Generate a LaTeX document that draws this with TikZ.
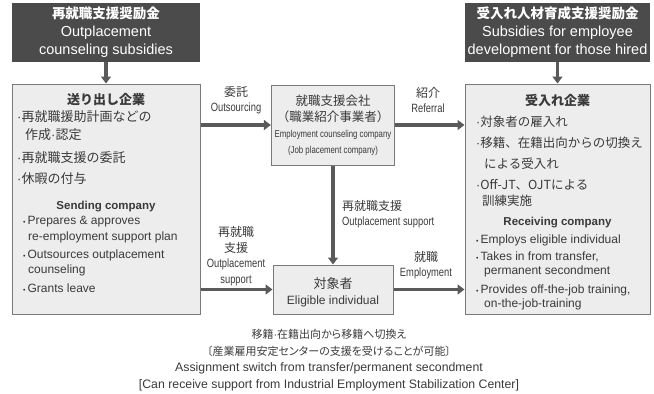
\documentclass[tikz,border=0pt]{standalone}
\usepackage{fontspec}
\setmainfont{Liberation Sans}
\newfontfamily\jp{Noto Sans CJK JP}
\newfontfamily\jpp[RawFeature=+palt]{Noto Sans CJK JP}
\newfontfamily\narrow[FakeStretch=0.78]{Liberation Sans}
\usetikzlibrary{arrows.meta,positioning}

\definecolor{darkbox}{HTML}{4B4B4B}
\definecolor{boxfill}{HTML}{EDEDED}
\definecolor{boxline}{HTML}{7A7A7A}
\definecolor{arrowgray}{HTML}{5A5A5A}
\definecolor{ink}{HTML}{3A3A3A}

\newcommand\mdot{{\normalfont\textperiodcentered}}
\newcommand\bul{{\fontsize{7}{7}\selectfont\textbullet}\,}

\tikzset{
  subsidy/.style = {fill = darkbox, text = white, align = center,
    minimum width = 188pt, minimum height = 59pt, inner sep = 0pt,
    font = \fontsize{14.5}{18}\selectfont},
  panel/.style = {draw = boxline, fill = boxfill, line width = 1pt},
  flow/.style = {draw = arrowgray, line width = 3.5pt,
    -{Triangle[length = 7pt, width = 10pt]}},
  jtxt/.style = {text = ink, inner sep = 0pt, anchor = west,
    font = \jp\fontsize{13}{15}\selectfont},
  etxt/.style = {text = ink, inner sep = 0pt, anchor = west,
    font = \fontsize{12}{14}\selectfont},
  head/.style = {text = ink, inner sep = 0pt},
  lbl/.style = {text = ink, inner sep = 0pt, align = center,
    font = \fontsize{12}{15.5}\selectfont},
}

\begin{document}
\begin{tikzpicture}[x = 1pt, y = -1pt]
  \useasboundingbox (0, 0) rectangle (654, 394);

  % ------------------------------------------------------------------------
  % Subsidies
  \node[subsidy] at (106, 32.5) (subL)
    {{\jp\bfseries\fontsize{13.5}{18}\selectfont 再就職支援奨励金}\\Outplacement\\counseling subsidies};
  \node[subsidy, minimum width = 185pt] at (557.5, 32.5) (subR)
    {{\jp\bfseries\fontsize{13.5}{18}\selectfont 受入れ人材育成支援奨励金}\\Subsidies for employee\\development for those hired};

  % ------------------------------------------------------------------------
  % Boxes
  \node[panel, minimum width = 188pt, minimum height = 230pt] at (106, 199) (send) {};
  \node[panel, minimum width = 185pt, minimum height = 230pt] at (557.5, 199) (recv) {};
  \node[panel, minimum width = 119pt, minimum height = 80pt, align = center,
        text = ink, font = \fontsize{12.5}{16}\selectfont] at (333, 125) (agency)
    {{\jp 就職支援会社}\\{\jp （職業紹介事業者）}\\{\narrow\fontsize{10}{16}\selectfont Employment counseling company}\\{\narrow\fontsize{10}{16}\selectfont (Job placement company)}};
  \node[panel, minimum width = 120pt, minimum height = 49pt] at (333, 289.5) (person) {};
  \node[head, align = center, font = \fontsize{12}{15.5}\selectfont] at (333, 292.5) (personT)
    {{\jp\fontsize{13}{15.5}\selectfont 対象者}\\Eligible individual};

  % ------------------------------------------------------------------------
  % Sending company
  \node[head, font = \jp\bfseries\fontsize{13}{15}\selectfont] at (106, 100) (sendJ) {送り出し企業};
  \node[jtxt] at (17, 117) (sendJa) {\mdot 再就職援助計画などの};
  \node[jtxt] at (25, 135) (sendJb) {作成\mdot 認定};
  \node[jtxt] at (17, 158) (sendJc) {\mdot 再就職支援の委託};
  \node[jtxt] at (17, 179) (sendJd) {\mdot 休暇の付与};
  \node[head, font = \bfseries\fontsize{11.5}{14}\selectfont] at (106, 207) (sendE) {Sending company};
  \node[etxt] at (23, 222) (sendEa) {\bul Prepares \& approves};
  \node[etxt] at (28, 237) (sendEb) {re-employment support plan};
  \node[etxt] at (23, 255) (sendEc) {\bul Outsources outplacement};
  \node[etxt] at (28, 270) (sendEd) {counseling};
  \node[etxt] at (23, 288) (sendEe) {\bul Grants leave};

  % ------------------------------------------------------------------------
  % Receiving company
  \node[head, font = \jp\bfseries\fontsize{13}{15}\selectfont] at (557.5, 101) (recvJ) {受入れ企業};
  \node[jtxt, font = \jp\fontsize{12.5}{15}\selectfont] at (476, 122) (recvJa) {\mdot 対象者の雇入れ};
  \node[jtxt, font = \jp\fontsize{12.5}{15}\selectfont] at (476, 143) (recvJb) {\mdot 移籍、在籍出向からの切換え};
  \node[jtxt, font = \jp\fontsize{12.5}{15}\selectfont] at (484, 164) (recvJc) {による受入れ};
  \node[jtxt, font = \jp\fontsize{12.5}{15}\selectfont] at (476, 185) (recvJd) {\mdot Off-JT、OJTによる};
  \node[jtxt, font = \jp\fontsize{12.5}{15}\selectfont] at (482, 201) (recvJe) {訓練実施};
  \node[head, font = \bfseries\fontsize{11.5}{14}\selectfont] at (557.5, 223) (recvE) {Receiving company};
  \node[etxt] at (476, 240) (recvEa) {\bul Employs eligible individual};
  \node[etxt] at (476, 257) (recvEb) {\bul Takes in from transfer,};
  \node[etxt] at (484, 271) (recvEc) {permanent secondment};
  \node[etxt] at (476, 290) (recvEd) {\bul Provides off-the-job training,};
  \node[etxt] at (484, 304) (recvEe) {on-the-job-training};

  % ------------------------------------------------------------------------
  % Flows
  \draw[flow] (subL) -- (send);
  \draw[flow] (subR) -- (recv);
  \draw[flow] (send.east |- agency.west) -- (agency.west);
  \draw[flow] (agency.east) -- (recv.west |- agency.east);
  \draw[flow] (agency) -- (person);
  \draw[flow] (send.east |- person.west) -- (person.west);
  \draw[flow] (person.east) -- (recv.west |- person.east);

  \node[lbl] at (236, 100) (outsrc) {{\jp 委託}\\{\narrow Outsourcing}};
  \node[lbl] at (428, 100) (refer) {{\jp 紹介}\\{\narrow Referral}};
  \node[lbl, anchor = west, align = left] at (342, 214) (support)
    {{\jp 再就職支援}\\{\narrow Outplacement support}};
  \node[lbl] at (236, 256) (supportL)
    {{\jp 再就職}\\{\jp 支援}\\{\narrow Outplacement}\\{\narrow support}};
  \node[lbl] at (426, 265) (employ) {{\jp 就職}\\{\narrow Employment}};

  % ------------------------------------------------------------------------
  % Note
  \node[lbl, font = \fontsize{12.3}{16.7}\selectfont] at (329, 360) (note)
    {{\jpp\fontsize{11}{16.7}\selectfont 移籍\mdot 在籍出向から移籍へ切換え}\\
     {\jpp\fontsize{11}{16.7}\selectfont 〔産業雇用安定センターの支援を受けることが可能〕}\\
     Assignment switch from transfer/permanent secondment\\
     {[}Can receive support from Industrial Employment Stabilization Center{]}};
\end{tikzpicture}
\end{document}
